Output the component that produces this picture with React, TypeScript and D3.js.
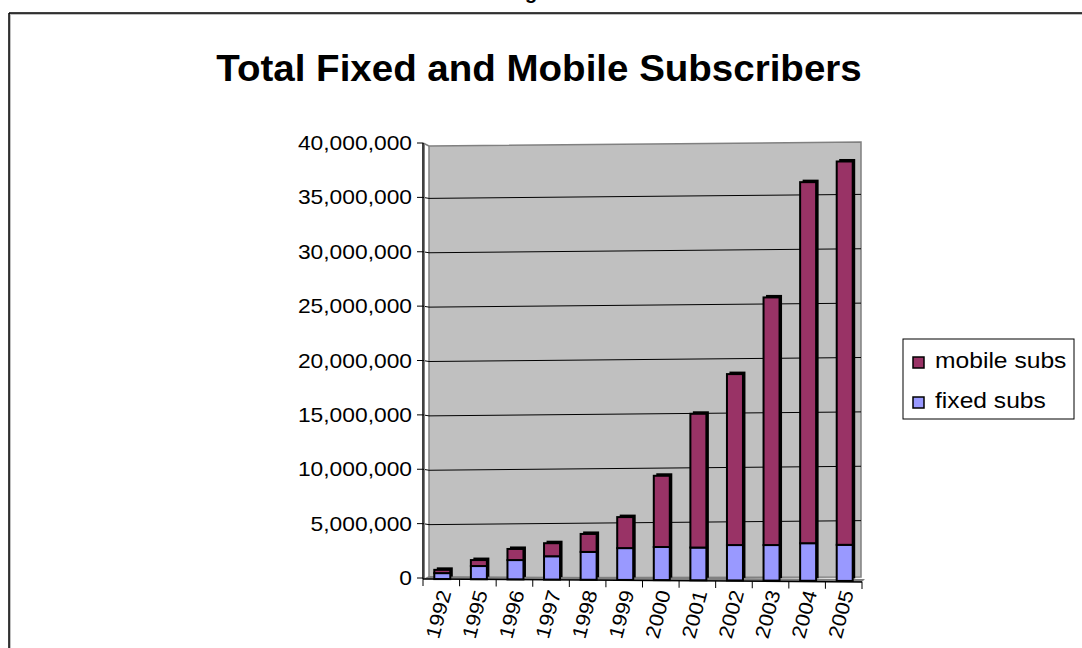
import * as d3 from "d3";

const years = ["1992", "1995", "1996", "1997", "1998", "1999", "2000", "2001", "2002", "2003", "2004", "2005"];
const fixedSubs = [450000, 1100000, 1650000, 2000000, 2400000, 2750000, 2850000, 2800000, 3030000, 3030000, 3200000, 3050000];
const mobileSubs = [300000, 550000, 1020000, 1200000, 1650000, 2850000, 6550000, 12300000, 15720000, 22770000, 33200000, 35250000];
const yTicks = [0, 5000000, 10000000, 15000000, 20000000, 25000000, 30000000, 35000000, 40000000];
const legendItems = [
  { label: "mobile subs", color: "#993366" },
  { label: "fixed subs", color: "#9999FF" },
];

const W = 1082;
const H = 648;
const FONT = "Arial, 'Liberation Sans', sans-serif";

export default function App() {
  const left = 423;
  const right = 862;
  const x = d3.scaleBand<string>().domain(years).range([left, right]).padding(0);
  const y = d3.scaleLinear().domain([0, 40000000]).range([578, 143]);
  const fmt = d3.format(",");

  // back wall has a slight perspective: it rises toward the right
  const wallL = 429;
  const wallR = 861;
  const slope = (px: number) => -((px - wallL) / (wallR - wallL)) * 4;

  const barW = 16;
  const depth = 2.5;

  return (
    <svg width={W} height={H} style={{ position: "absolute", left: 0, top: 0, background: "#fff" }}>
      {/* cut off caption above the chart */}
      <text x={531} y={-1} textAnchor="middle" fontFamily={FONT} fontWeight="bold" fontSize={20}>
        g
      </text>

      {/* chart frame */}
      <line x1={9} y1={14} x2={W} y2={14} stroke="#c0c0c0" strokeWidth={2} />
      <line x1={10} y1={13} x2={10} y2={H} stroke="#c0c0c0" strokeWidth={2} />
      <line x1={9} y1={13} x2={W} y2={13} stroke="#000" strokeWidth={1.5} />
      <line x1={9} y1={13} x2={9} y2={H} stroke="#000" strokeWidth={1.5} />

      {/* Excel draws its text a little wider than Arial, hence the scaleX */}
      <text
        transform="translate(539,81) scale(1.07,1)"
        textAnchor="middle"
        fontFamily={FONT}
        fontWeight="bold"
        fontSize={36}
      >
        Total Fixed and Mobile Subscribers
      </text>

      {/* back wall */}
      <polygon
        points={`${wallL},${y(40000000) + 3} ${wallR},${y(40000000) + 3 + slope(wallR)} ${wallR},${y(0) + slope(wallR) + 3} ${wallL},${y(0)}`}
        fill="#c0c0c0"
        stroke="#808080"
        strokeWidth={1.5}
      />
      {yTicks
        .filter((t) => t > 0 && t < 40000000)
        .map((t) => (
          <g key={t}>
            <line x1={left} y1={y(t)} x2={wallL} y2={y(t) + 1} stroke="#000" strokeWidth={1} />
            <line x1={wallL} y1={y(t) + 1} x2={wallR} y2={y(t) + 1 + slope(wallR)} stroke="#000" strokeWidth={1} />
          </g>
        ))}
      <line x1={left} y1={y(40000000)} x2={wallL} y2={y(40000000) + 3} stroke="#808080" strokeWidth={1.5} />

      {/* floor */}
      <polygon
        points={`${left},${y(0) + 1} ${wallL},${y(0) - 2} ${wallR + 4},${y(0) + 1} ${right},${y(0) + 4}`}
        fill="#808080"
      />

      {/* y axis */}
      <line x1={left} y1={y(40000000)} x2={left} y2={y(0) + 1} stroke="#000" strokeWidth={1.5} />
      <line x1={left + 1.5} y1={y(40000000)} x2={left + 1.5} y2={y(0)} stroke="#808080" strokeWidth={1} />
      {yTicks.map((t) => (
        <g key={t}>
          <line x1={left - 6} y1={y(t)} x2={left} y2={y(t)} stroke="#000" strokeWidth={1} />
          <text
            transform={`translate(412,${y(t) + 7}) scale(1.14,1)`}
            textAnchor="end"
            fontFamily={FONT}
            fontSize={20}
            fill="#000"
          >
            {fmt(t)}
          </text>
        </g>
      ))}

      {/* bars */}
      {years.map((yr, i) => {
        const cx = (x(yr) as number) + x.bandwidth() / 2 + 1;
        const base = y(0) + 1 + ((cx - left) / (right - left)) * 2;
        const fTop = y(fixedSubs[i]);
        const tTop = y(fixedSubs[i] + mobileSubs[i]);
        const x0 = cx - barW / 2;
        return (
          <g key={yr}>
            <rect x={x0 + depth} y={tTop - depth} width={barW} height={base - tTop} fill="#000" />
            <rect x={x0} y={fTop} width={barW} height={base - fTop} fill="#9999FF" stroke="#000" strokeWidth={2} />
            <rect x={x0} y={tTop} width={barW} height={fTop - tTop} fill="#993366" stroke="#000" strokeWidth={2} />
          </g>
        );
      })}

      {/* x axis */}
      <line x1={left} y1={y(0) + 1} x2={right} y2={y(0) + 4} stroke="#000" strokeWidth={1.5} />
      {[...years.map((yr) => x(yr) as number), right].map((px, i) => {
        const py = y(0) + 1 + ((px - left) / (right - left)) * 3;
        return <line key={i} x1={px} y1={py} x2={px} y2={py + 7} stroke="#000" strokeWidth={1} />;
      })}
      {years.map((yr) => {
        const cx = (x(yr) as number) + x.bandwidth() / 2 + 5;
        return (
          <text
            key={yr}
            transform={`translate(${cx},591) rotate(-75) scale(1.1,1)`}
            textAnchor="end"
            dominantBaseline="middle"
            fontFamily={FONT}
            fontSize={20}
          >
            {yr}
          </text>
        );
      })}

      {/* legend */}
      <rect x={903} y={339} width={171} height={80} fill="#fff" stroke="#000" strokeWidth={1} />
      {legendItems.map((item, i) => (
        <g key={item.label}>
          <rect x={913} y={357 + i * 40} width={11} height={11} fill={item.color} stroke="#000" strokeWidth={1.5} />
          <text
            transform={`translate(935,${368 + i * 40}) scale(1.12,1)`}
            fontFamily={FONT}
            fontSize={22}
          >
            {item.label}
          </text>
        </g>
      ))}
    </svg>
  );
}
